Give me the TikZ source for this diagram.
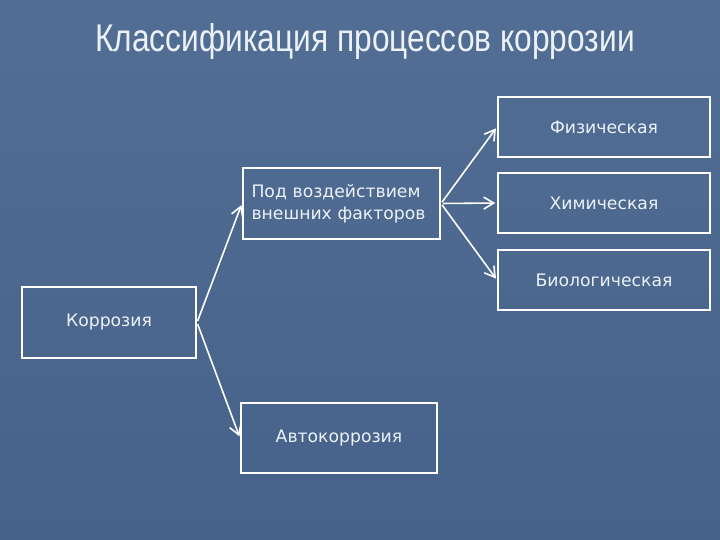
\documentclass[tikz,border=0pt]{standalone}
\usepackage{fontspec}
\setmainfont{DejaVu Sans}
\newfontfamily\titlefont[FakeStretch=0.82]{Liberation Sans}
\usepackage{tikz}
\usepackage{xcolor}
\usetikzlibrary{arrows.meta, positioning}
\definecolor{cSlateTop}{RGB}{82,110,148}
\definecolor{cSlateBot}{RGB}{70,98,138}
\definecolor{cText}{RGB}{236,242,248}
\tikzset{
	blk/.style ={rectangle, draw=white, line width=1.2pt, align=center, text=cText, font=\fontsize{9.8}{12.5}\selectfont},
	sig/.style ={-{Straight Barb[length=2mm, width=2.4mm]}, draw=white, line width=0.9pt, shorten <=1pt, shorten >=1pt},
}

\begin{document}
\begin{tikzpicture}[x=0.02cm, y=-0.02cm]
	\shade[top color=cSlateTop, bottom color=cSlateBot] (0,0) rectangle (720,540);
	\useasboundingbox (0,0) rectangle (720,540);
	\node[text=cText, font=\titlefont\fontsize{22}{26}\selectfont] (title) at (365,42) {Классификация процессов коррозии};
	% left column
	\node[blk, minimum width=3.48cm, minimum height=1.42cm] (korr) at (109,322.5) {Коррозия};
	\node[blk, minimum width=3.94cm, minimum height=1.42cm, text width=3.6cm, inner xsep=0.17cm, align=left] (vnesh) at (341.5,203.5) {Под воздействием\\ внешних факторов};
	\node[blk, minimum width=3.92cm, minimum height=1.4cm] (auto) at (339,438) {Автокоррозия};
	% right column
	\node[blk, minimum width=4.24cm, minimum height=1.2cm] (fiz) at (604,127) {Физическая};
	\node[blk, minimum width=4.24cm, minimum height=1.2cm] (him) at (604,203) {Химическая};
	\node[blk, minimum width=4.24cm, minimum height=1.2cm] (bio) at (604,280) {Биологическая};
	\draw[sig] (korr.east) -- (vnesh.west);
	\draw[sig] (korr.east) -- (auto.west);
	\draw[sig] (vnesh.east) -- (fiz.west);
	\draw[sig] (vnesh.east) -- (him.west);
	\draw[sig] (vnesh.east) -- (bio.west);
\end{tikzpicture}
\end{document}
